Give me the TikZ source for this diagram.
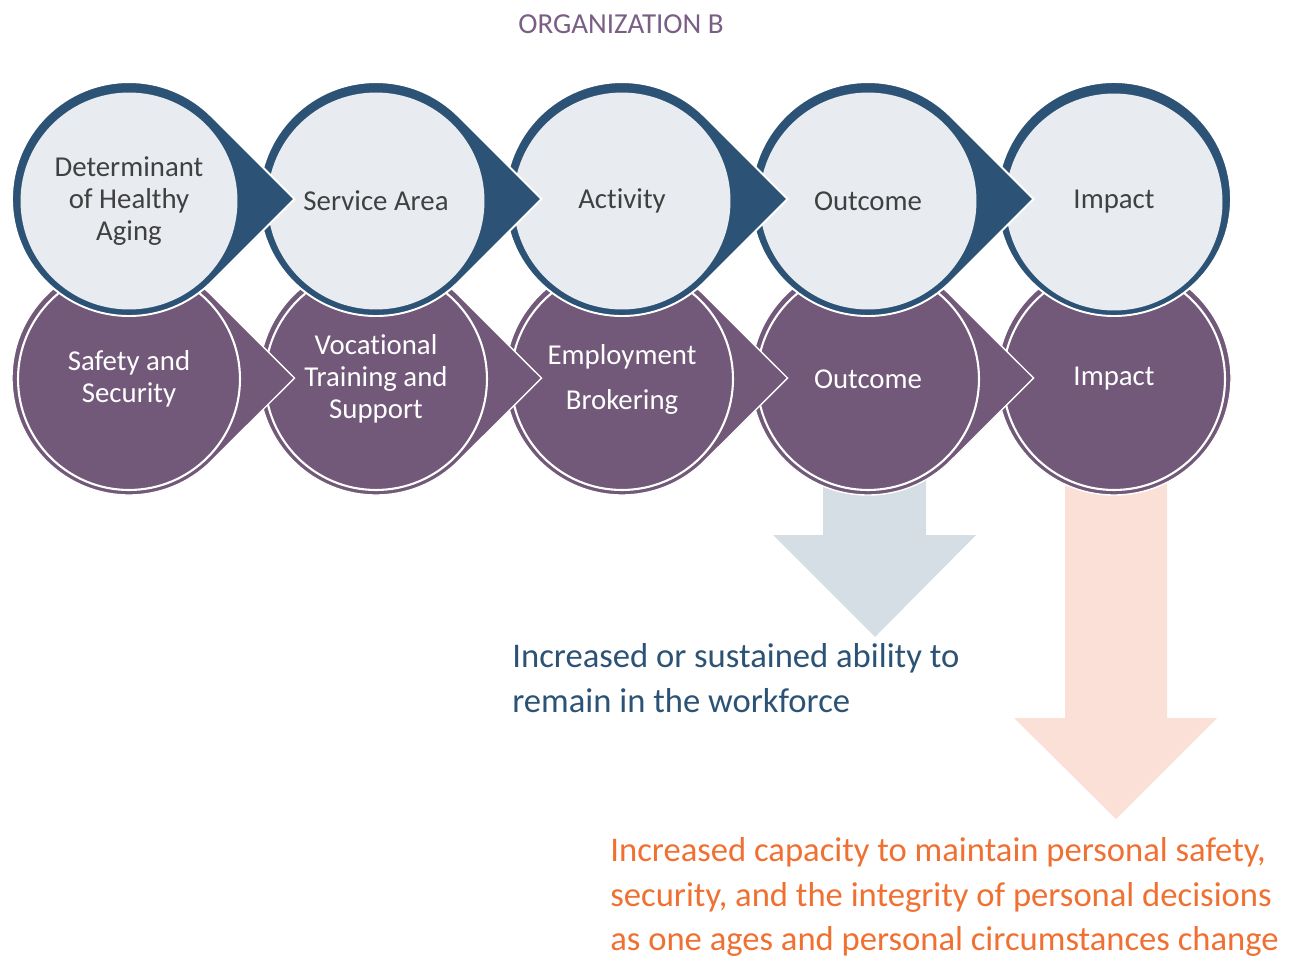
\documentclass[tikz,border=0pt]{standalone}
\usepackage{fontspec}
\setmainfont{Carlito}[Ligatures=NoCommon]
\definecolor{navy}{HTML}{2C5375}
\definecolor{paleblue}{HTML}{E8ECF0}
\definecolor{plum}{HTML}{725879}
\definecolor{darktext}{HTML}{404040}
\definecolor{greyarrow}{HTML}{D5DEE5}
\definecolor{peach}{HTML}{FAE0D6}
\definecolor{orangetext}{HTML}{F07032}
\definecolor{titleplum}{HTML}{7A5E85}

\begin{document}
\begin{tikzpicture}[x=0.02cm,y=0.02cm]
\tikzstyle{every node}=[inner sep=0pt,align=center]
\tikzstyle{topdrop}=[fill=navy,draw=white,line width=1.1pt]
\tikzstyle{topball}=[circle,fill=paleblue,minimum size=4.34cm,text=darktext,font=\fontsize{16.4}{18.2}\selectfont]
\tikzstyle{lowdrop}=[fill=plum,draw=white,line width=0.8pt]
\tikzstyle{lowball}=[circle,draw=white,line width=1.2pt,fill=plum,minimum size=4.44cm,text=white,font=\fontsize{16.4}{18.2}\selectfont]
\tikzstyle{result}=[anchor=west,align=left,font=\fontsize{19.7}{25.3}\selectfont]

\useasboundingbox (0,0) rectangle (1293,-957);

\node[text=titleplum,font=\fontsize{16.5}{19}\selectfont] (title) at (621,-24) {ORGANIZATION B};

% big arrows down
\fill[greyarrow] (823,-470) -- (926,-470) -- (926,-535) -- (976,-535) -- (875,-637)
  -- (773,-535) -- (823,-535) -- cycle;
\fill[peach] (1065,-470) -- (1167,-470) -- (1167,-718) -- (1217,-718) -- (1116,-819)
  -- (1014,-718) -- (1065,-718) -- cycle;

% lower row
\draw[lowdrop] (1114,-378) circle (117);
\node[lowball] (imp2) at (1114,-379) {Impact};
\foreach \cx/\name/\txt in {868/outc2/Outcome,622/emp/{Employment\\[7.4pt]Brokering},
  376/voc/{Vocational\\Training and\\Support},129/safe/{Safety and\\Security}}{
  \draw[lowdrop] ({\cx+165.5},-378) -- ({\cx+82.7},{-378+82.7})
    arc[start angle=45,end angle=315,radius=117] -- cycle;
  \node[lowball] (\name) at (\cx,-379) {\txt};
}

% upper row
\draw[topdrop] (1114,-199) circle (117);
\node[topball] (imp) at (1114,-202) {Impact};
\foreach \cx/\name/\txt in {868/outc/Outcome,622/act/Activity,
  376/area/Service Area,129/det/{Determinant\\of Healthy\\Aging}}{
  \draw[topdrop] ({\cx+165.5},-199) -- ({\cx+82.7},{-199+82.7})
    arc[start angle=45,end angle=315,radius=117] -- cycle;
  \node[topball] (\name) at (\cx,-201) {\txt};
}

\node[result,text=navy] (workforce) at (512,-678)
  {Increased or sustained ability to\\remain in the workforce};
\node[result,text=orangetext,font=\fontsize{19.7}{25.4}\selectfont] (safety) at (610,-897)
  {Increased capacity to maintain personal safety,\\security, and the integrity of personal decisions\\as one ages and personal circumstances change};
\end{tikzpicture}
\end{document}
